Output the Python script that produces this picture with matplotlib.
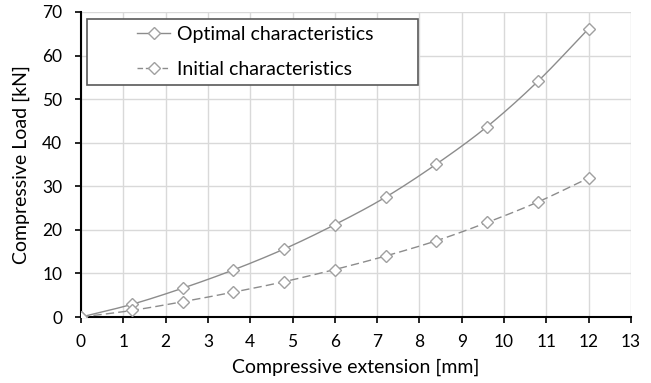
import numpy as np
import matplotlib
matplotlib.use("Agg")
import matplotlib.pyplot as plt
from matplotlib.lines import Line2D
from matplotlib.patches import Rectangle

plt.rcParams['font.family'] = ['Lato', 'DejaVu Sans']

extension = [0, 1.2, 2.4, 3.6, 4.8, 6.0, 7.2, 8.4, 9.6, 10.8, 12.0]
optimal = [0, 2.9, 6.6, 10.8, 15.6, 21.2, 27.5, 35.1, 43.7, 54.1, 66.2]
initial = [0, 1.5, 3.5, 5.7, 8.1, 10.9, 14.0, 17.5, 21.7, 26.4, 31.9]
labels = ["Optimal characteristics", "Initial characteristics"]


def smooth(x, y, n=20):
    x = np.asarray(x, float); y = np.asarray(y, float)
    px = np.concatenate([[2 * x[0] - x[1]], x, [2 * x[-1] - x[-2]]])
    py = np.concatenate([[2 * y[0] - y[1]], y, [2 * y[-1] - y[-2]]])
    xs, ys = [], []
    t = np.linspace(0, 1, n, endpoint=False)
    for i in range(1, len(px) - 2):
        p0, p1, p2, p3 = [np.array([px[j], py[j]]) for j in range(i - 1, i + 3)]
        tt = t[:, None]
        pts = 0.5 * ((2 * p1) + (-p0 + p2) * tt + (2 * p0 - 5 * p1 + 4 * p2 - p3) * tt ** 2
                     + (-p0 + 3 * p1 - 3 * p2 + p3) * tt ** 3)
        xs.extend(pts[:, 0]); ys.extend(pts[:, 1])
    xs.append(x[-1]); ys.append(y[-1])
    return np.array(xs), np.array(ys)


W, H = 651, 383
fig = plt.figure(figsize=(W / 100, H / 100), dpi=100)
ax = fig.add_axes([81 / W, 1 - 317 / H, 550 / W, 305 / H])

line_c = '#8c8c8c'
mk_c = '#a0a0a0'
for y, ls in [(optimal, '-'), (initial, (0, (6, 3)))]:
    sx, sy = smooth(extension, y)
    ax.plot(sx, sy, color=line_c, lw=1.0, ls=ls, zorder=3)
    ax.plot(extension, y, ls='none', marker='D', ms=6.5, mfc='white', mec=mk_c, mew=1.0, zorder=4)

# legend box
rect = Rectangle(((87 - 81) / 550, (317 - 85) / 305), 331 / 550, 66 / 305,
                 transform=ax.transAxes, facecolor='white', edgecolor='#595959',
                 lw=1.2, zorder=5)
ax.add_patch(rect)
h1 = Line2D([], [], color=line_c, lw=1.0, ls='-', marker='D', ms=6.5, mfc='white', mec=mk_c)
h2 = Line2D([], [], color=line_c, lw=1.0, ls=(0, (4, 2)), marker='D', ms=6.5, mfc='white', mec=mk_c)
leg = ax.legend([h1, h2], labels, loc='center left',
                bbox_to_anchor=((137 - 81) / 550, (317 - 52) / 305),
                fontsize=14, frameon=False, handlelength=1.7,
                borderpad=0, labelspacing=0.9, borderaxespad=0, handletextpad=0.35)
leg.set_zorder(6)

ax.set_xlim(0, 13)
ax.set_ylim(0, 70)
ax.set_xticks(range(0, 14))
ax.set_yticks(range(0, 71, 10))
ax.grid(True, color='#d9d9d9', lw=1.0)
ax.set_axisbelow(True)
for s in ['top', 'right']:
    ax.spines[s].set_visible(False)
for s in ['left', 'bottom']:
    ax.spines[s].set_linewidth(1.5)
    ax.spines[s].set_color('black')
ax.tick_params(direction='out', length=4.5, width=1.2, labelsize=12.5, colors='black')
ax.tick_params(axis='x', pad=8)
ax.tick_params(axis='y', pad=9)
ax.set_xlabel('Compressive extension [mm]', fontsize=14, labelpad=6)
ax.set_ylabel('Compressive Load [kN]', fontsize=14, labelpad=9)

fig.savefig('out.png', dpi=100)
